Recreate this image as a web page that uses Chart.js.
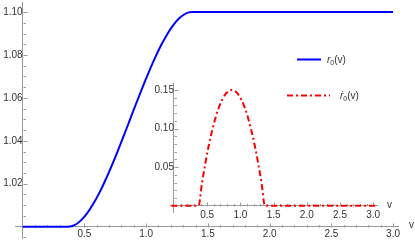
<!DOCTYPE html>
<html>
<head>
<meta charset="utf-8">
<script src="https://cdn.jsdelivr.net/npm/chart.js@4.4.1/dist/chart.umd.min.js"></script>
<style>
body{margin:0;background:#fff;}
#wrap{position:relative;width:415px;height:240px;font-family:"Liberation Sans",Arial,sans-serif;color:#333;}
#mainBox{position:absolute;left:0;top:0;width:415px;height:240px;}
#insetBox{position:absolute;left:150px;top:78px;width:250px;height:146px;}
.lbl{position:absolute;font-size:10px;line-height:10px;}
.leg{position:absolute;font-size:10px;line-height:12px;white-space:nowrap;}
.leg sub{font-size:7px;vertical-align:-2px;line-height:0;}
svg.key{position:absolute;overflow:visible;}
</style>
</head>
<body>
<div id="wrap">
  <div id="mainBox"><canvas id="mainChart"></canvas></div>
  <div id="insetBox"><canvas id="insetChart"></canvas></div>
  <span class="lbl" style="left:409px;top:220px">v</span>
  <span class="lbl" style="left:387px;top:200px">v</span>
  <svg class="key" style="left:297px;top:59px" width="24" height="2"><line x1="0" y1="0.5" x2="24" y2="0.5" stroke="#0000ff" stroke-width="2"/></svg>
  <div class="leg" style="left:327px;top:54px"><i>r</i><sub>0</sub>(v)</div>
  <svg class="key" style="left:287px;top:95px" width="43" height="2"><line x1="0" y1="0.5" x2="43" y2="0.5" stroke="#ff0000" stroke-width="2" stroke-dasharray="6 3 2 3"/></svg>
  <div class="leg" style="left:340px;top:90px"><i>ṙ</i><sub>0</sub>(v)</div>
</div>
<script>
// main curve r0(v)
var vMain = [0, 0.37, 0.42, 0.47, 0.52, 0.57, 0.62, 0.67, 0.72, 0.77, 0.82, 0.87, 0.92, 0.97, 1.02, 1.07, 1.12, 1.17, 1.22, 1.27, 1.32, 1.37, 3.0];
var rMain = [1.0, 1.0, 1.0007, 1.0028, 1.0061, 1.0104, 1.0156, 1.0216, 1.0282, 1.0352, 1.0425, 1.05, 1.0575, 1.0648, 1.0718, 1.0784, 1.0844, 1.0896, 1.0939, 1.0972, 1.0993, 1.1, 1.1];

// inset curve r0'(v)
var vInset = [-0.04, 0.37, 0.42, 0.47, 0.52, 0.57, 0.62, 0.67, 0.72, 0.77, 0.82, 0.87, 0.92, 0.97, 1.02, 1.07, 1.12, 1.17, 1.22, 1.27, 1.32, 1.37, 3.03];
var rDot = [0, 0, 0.0285, 0.054, 0.0765, 0.096, 0.1125, 0.126, 0.1365, 0.144, 0.1485, 0.15, 0.1485, 0.144, 0.1365, 0.126, 0.1125, 0.096, 0.0765, 0.054, 0.0285, 0, 0];

// tick labels
var xTicks = [0.5, 1.0, 1.5, 2.0, 2.5, 3.0];
var yTicksMain = [1.02, 1.04, 1.06, 1.08, 1.10];
var yTicksInset = [0.05, 0.10, 0.15];

var axisColor = "#9a9a9a";
var textColor = "#333333";
var font = {family: "'Liberation Sans', Arial, sans-serif", size: 10};

// mathematica style ticks: drawn from the axis into the plot, minor ones shorter
var axisTicks = {
  id: 'axisTicks',
  beforeDatasetsDraw: function(chart, args, o) {
    var ctx = chart.ctx, x = chart.scales.x, y = chart.scales.y;
    var px0 = Math.round(x.getPixelForValue(0)) + 0.5;
    var py0 = Math.round(y.getPixelForValue(o.yOrigin)) + 0.5;
    var isMajor = function(list, v) { return list.some(function(m) { return Math.abs(m - v) < 1e-9; }); };
    ctx.save();
    ctx.strokeStyle = axisColor;
    ctx.lineWidth = 1;
    ctx.beginPath();
    for (var i = Math.ceil(x.min / o.xStep - 1e-9); i * o.xStep <= x.max + 1e-9; i++) {
      var v = i * o.xStep;
      if (Math.abs(v) < 1e-9) continue;
      var px = Math.round(x.getPixelForValue(v)) + 0.5;
      var len = isMajor(o.xMajor, v) ? 4 : 2.5;
      ctx.moveTo(px, py0); ctx.lineTo(px, py0 - len);
    }
    for (var j = Math.ceil(y.min / o.yStep - 1e-9); j * o.yStep <= y.max + 1e-9; j++) {
      var w = j * o.yStep;
      if (Math.abs(w - o.yOrigin) < 1e-9) continue;
      var py = Math.round(y.getPixelForValue(w)) + 0.5;
      var len2 = isMajor(o.yMajor, w) ? 4 : 2.5;
      ctx.moveTo(px0, py); ctx.lineTo(px0 + len2, py);
    }
    ctx.stroke();
    ctx.restore();
  }
};

function scales(xMin, xMax, yMin, yMax, yOrigin, yList, xPad) {
  return {
    x: {
      type: 'linear', axis: 'x', min: xMin, max: xMax, position: {y: yOrigin},
      grid: {display: false, drawTicks: false},
      border: {display: true, color: axisColor, width: 1},
      ticks: {padding: xPad, color: textColor, font: font, autoSkip: false, maxRotation: 0,
        callback: function(v) { return v.toFixed(1); }},
      afterBuildTicks: function(s) { s.ticks = xTicks.map(function(v) { return {value: v}; }); },
      afterFit: function(s) { s.height = 0; s.paddingLeft = 0; s.paddingRight = 0; s.paddingTop = 0; s.paddingBottom = 0; }
    },
    y: {
      type: 'linear', axis: 'y', min: yMin, max: yMax, position: {x: 0},
      grid: {display: false, drawTicks: false},
      border: {display: true, color: axisColor, width: 1},
      ticks: {padding: 3, color: textColor, font: font, autoSkip: false,
        callback: function(v) { return v.toFixed(2); }},
      afterBuildTicks: function(s) { s.ticks = yList.map(function(v) { return {value: v}; }); },
      afterFit: function(s) { s.width = 0; s.paddingLeft = 0; s.paddingRight = 0; s.paddingTop = 0; s.paddingBottom = 0; }
    }
  };
}

var mainChart = new Chart(document.getElementById('mainChart').getContext('2d'), {
  type: 'line',
  data: {
    datasets: [{
      label: 'r0(v)',
      data: vMain.map(function(v, i) { return {x: v, y: rMain[i]}; }),
      borderColor: '#0000ff', borderWidth: 2, pointRadius: 0,
      cubicInterpolationMode: 'monotone', fill: false
    }]
  },
  options: {
    responsive: true, maintainAspectRatio: false, animation: false,
    layout: {padding: {left: 15, right: 17, top: 2, bottom: 2}},
    scales: scales(-0.062, 3.04, 0.9947, 1.1047, 1.0, yTicksMain, 2),
    plugins: {
      legend: {display: false}, tooltip: {enabled: false},
      axisTicks: {yOrigin: 1.0, xStep: 0.1, yStep: 0.005, xMajor: xTicks, yMajor: yTicksMain}
    }
  },
  plugins: [axisTicks]
});

var insetChart = new Chart(document.getElementById('insetChart').getContext('2d'), {
  type: 'line',
  data: {
    datasets: [{
      label: 'ṙ0(v)',
      data: vInset.map(function(v, i) { return {x: v, y: rDot[i]}; }),
      borderColor: '#ff0000', borderWidth: 2, borderDash: [6, 3, 2, 3], pointRadius: 0,
      cubicInterpolationMode: 'monotone', fill: false
    }]
  },
  options: {
    responsive: true, maintainAspectRatio: false, animation: false,
    layout: {padding: {left: 20, right: 23, top: 5, bottom: 12}},
    scales: scales(-0.06, 3.057, -0.008, 0.159, 0, yTicksInset, 3),
    plugins: {
      legend: {display: false}, tooltip: {enabled: false},
      axisTicks: {yOrigin: 0, xStep: 0.1, yStep: 0.01, xMajor: xTicks, yMajor: yTicksInset}
    }
  },
  plugins: [axisTicks]
});
</script>
</body>
</html>
